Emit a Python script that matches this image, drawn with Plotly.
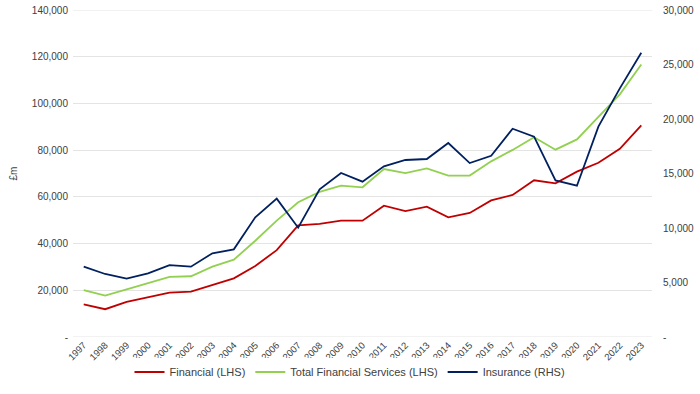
import plotly.graph_objects as go

years = [str(y) for y in range(1997, 2024)]
financial = [14000, 11900, 15000, 17000, 19000, 19400, 22300, 25100, 30400, 37200, 47800, 48400,
             49800, 49800, 56200, 53900, 55800, 51200, 53100, 58500, 60800, 67100, 65800, 70800,
             74600, 80600, 90600]
total_fs = [20100, 17700, 20400, 23000, 25700, 26000, 30100, 33100, 41200, 49800, 57700, 62100,
            64800, 64100, 71900, 70200, 72200, 69100, 69100, 75200, 80100, 85500, 80200, 84600,
            94300, 103900, 116700]
insurance = [6450, 5780, 5350, 5840, 6600, 6450, 7680, 8040, 10980, 12690, 10030, 13550,
             15050, 14250, 15660, 16240, 16330, 17800, 15960, 16630, 19110, 18380, 14370, 13880,
             19300, 22810, 26080]

left_ticks = [0, 20000, 40000, 60000, 80000, 100000, 120000, 140000]
left_text = ["-", "20,000", "40,000", "60,000", "80,000", "100,000", "120,000", "140,000"]
right_ticks = [0, 5000, 10000, 15000, 20000, 25000, 30000]
right_text = ["-", "5,000", "10,000", "15,000", "20,000", "25,000", "30,000"]

font = "Liberation Sans, Arial, sans-serif"
txt = "#404040"
grid = "#E4E4E4"

W, H = 700, 394

fig = go.Figure()
fig.add_trace(go.Scatter(x=years, y=financial, name="Financial (LHS)", mode="lines",
                         line=dict(color="#C00000", width=1.8)))
fig.add_trace(go.Scatter(x=years, y=total_fs, name="Total Financial Services (LHS)", mode="lines",
                         line=dict(color="#92D050", width=1.8)))
fig.add_trace(go.Scatter(x=years, y=insurance, name="Insurance (RHS)", mode="lines",
                         line=dict(color="#002060", width=1.8), yaxis="y2"))

# gridlines at the range edges (Plotly skips those)
for v in (left_ticks[0], left_ticks[-1]):
    fig.add_shape(type="line", xref="paper", x0=0, x1=1, yref="y", y0=v, y1=v,
                  line=dict(color=grid, width=1), layer="below")

fig.update_layout(
    width=W, height=H,
    margin=dict(l=73, r=48, t=10, b=57, autoexpand=False),
    paper_bgcolor="white", plot_bgcolor="white",
    font=dict(family=font, size=10, color=txt),
    showlegend=True,
    legend=dict(orientation="h", x=350 / W, xanchor="center", xref="container",
                y=1 - 372 / H, yanchor="middle", yref="container",
                font=dict(size=11, color=txt), itemwidth=30, tracegroupgap=0),
    xaxis=dict(type="category", tickangle=-45, showgrid=False, showline=False,
               ticks="", tickfont=dict(size=9.5, color=txt), range=[-0.5, 26.5]),
    yaxis=dict(range=[0, 140000], tickvals=left_ticks, ticktext=left_text,
               showgrid=True, gridcolor=grid, gridwidth=1, zeroline=False,
               tickfont=dict(size=10, color=txt), ticks="", ticklen=0,
               ticklabelstandoff=4, ticklabeloverflow="allow",
               title=dict(text="£m", font=dict(size=10, color=txt), standoff=12)),
    yaxis2=dict(range=[0, 30000], tickvals=right_ticks, ticktext=right_text,
                overlaying="y", side="right", showgrid=False, zeroline=False,
                ticklabelstandoff=10, ticklabeloverflow="allow",
                tickfont=dict(size=10, color=txt)),
)

fig.write_html("out.html", config={"displayModeBar": False},
               post_script="document.body.style.margin='0';")
